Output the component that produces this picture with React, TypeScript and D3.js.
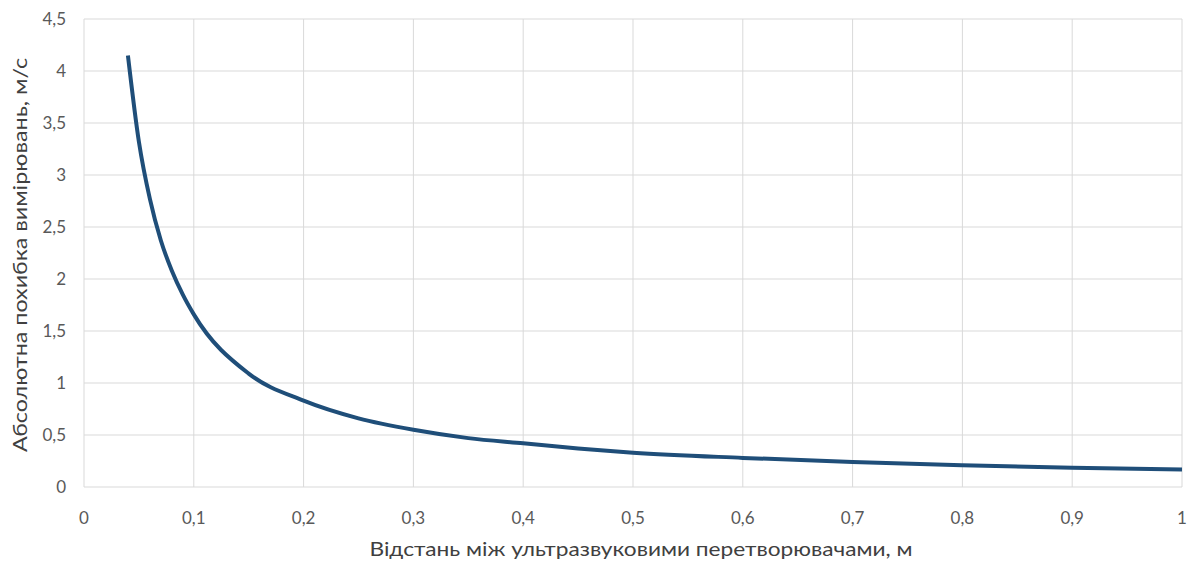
import React from "react";
import * as d3 from "d3";

const xValues = [0.04, 0.05, 0.06, 0.07, 0.08, 0.09, 0.1, 0.15, 0.2, 0.25, 0.3, 0.35, 0.4, 0.45, 0.5, 0.6, 0.7, 0.8, 0.9, 1.0];
const yValues = [4.15, 3.32, 2.77, 2.37, 2.08, 1.85, 1.66, 1.09, 0.83, 0.66, 0.55, 0.47, 0.42, 0.37, 0.33, 0.28, 0.24, 0.21, 0.185, 0.168];
const xTicks = [0, 0.1, 0.2, 0.3, 0.4, 0.5, 0.6, 0.7, 0.8, 0.9, 1];
const yTicks = [0, 0.5, 1, 1.5, 2, 2.5, 3, 3.5, 4, 4.5];
const xTitle = "Відстань між ультразвуковими перетворювачами, м";
const yTitle = "Абсолютна похибка вимірювань, м/с";

const W = 1198;
const H = 562;
const left = 84;
const right = 1182;
const top = 19;
const bottom = 487;

const fmt = (v: number) => String(v).replace(".", ",");

export default function App() {
  const x = d3.scaleLinear().domain([0, 1]).range([left, right]);
  const y = d3.scaleLinear().domain([0, 4.5]).range([bottom, top]);
  const pts = xValues.map((v, i) => [v, yValues[i]] as [number, number]);
  const line = d3
    .line<[number, number]>()
    .x((d) => x(d[0]))
    .y((d) => y(d[1]))
    .curve(d3.curveMonotoneX);
  const font = "Lato, 'Open Sans', sans-serif";
  return (
    <svg
      width={W}
      height={H}
      style={{ position: "absolute", left: 0, top: 0, background: "#fff" }}
    >
      <rect x={0} y={0} width={W} height={H} fill="#fff" />
      {yTicks.map((t) => (
        <line key={"gy" + t} x1={left} x2={right} y1={y(t)} y2={y(t)} stroke="#d9d9d9" strokeWidth={1} />
      ))}
      {xTicks.map((t) => (
        <line key={"gx" + t} x1={x(t)} x2={x(t)} y1={top} y2={bottom} stroke="#d9d9d9" strokeWidth={1} />
      ))}
      <path d={line(pts) || ""} fill="none" stroke="#1f4e79" strokeWidth={4} strokeLinejoin="round" strokeLinecap="butt" />
      {yTicks.map((t) => (
        <text key={"ly" + t} x={66} y={y(t)} dy="0.35em" textAnchor="end" fontSize={17} fill="#595959" fontFamily={font}>
          {fmt(t)}
        </text>
      ))}
      {xTicks.map((t) => (
        <text key={"lx" + t} x={x(t)} y={518} dy="0.35em" textAnchor="middle" fontSize={17} fill="#595959" fontFamily={font}>
          {fmt(t)}
        </text>
      ))}
      <text x={641} y={549} dy="0.35em" textAnchor="middle" fontSize={20} fill="#404040" fontFamily={font} textLength={543} lengthAdjust="spacingAndGlyphs">
        {xTitle}
      </text>
      <text
        transform={`translate(20, 255) rotate(-90)`}
        dy="0.35em"
        textAnchor="middle"
        fontSize={20}
        fill="#404040"
        fontFamily={font}
        textLength={394}
        lengthAdjust="spacingAndGlyphs"
      >
        {yTitle}
      </text>
    </svg>
  );
}
